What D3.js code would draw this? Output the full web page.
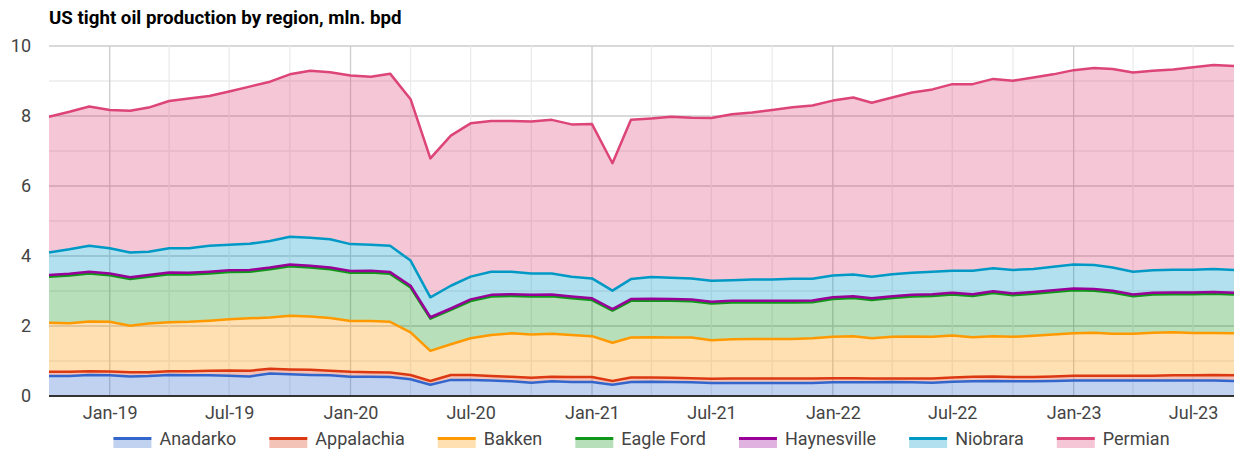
<!DOCTYPE html>
<html>
<head>
<meta charset="utf-8">
<script src="https://cdn.jsdelivr.net/npm/d3@7"></script>
<style>
body { margin: 0; background: #fff; font-family: Roboto, sans-serif; }
</style>
</head>
<body>
<script>
//chart data, monthly Oct 2018 - Sep 2023
var months = [
  "2018-10","2018-11","2018-12",
  "2019-01","2019-02","2019-03","2019-04","2019-05","2019-06","2019-07","2019-08","2019-09","2019-10","2019-11","2019-12",
  "2020-01","2020-02","2020-03","2020-04","2020-05","2020-06","2020-07","2020-08","2020-09","2020-10","2020-11","2020-12",
  "2021-01","2021-02","2021-03","2021-04","2021-05","2021-06","2021-07","2021-08","2021-09","2021-10","2021-11","2021-12",
  "2022-01","2022-02","2022-03","2022-04","2022-05","2022-06","2022-07","2022-08","2022-09","2022-10","2022-11","2022-12",
  "2023-01","2023-02","2023-03","2023-04","2023-05","2023-06","2023-07","2023-08","2023-09"
];
var regions = ["Anadarko", "Appalachia", "Bakken", "Eagle Ford", "Haynesville", "Niobrara", "Permian"];
var colors = ["#3366cc", "#dc3912", "#ff9900", "#109618", "#990099", "#0099c6", "#dd4477"];

var anadarko = [0.57,0.57,0.60,0.59,0.56,0.57,0.60,0.59,0.59,0.58,
  0.56,0.64,0.62,0.60,0.59,0.55,0.55,0.54,0.48,0.32,
  0.46,0.46,0.44,0.42,0.38,0.42,0.40,0.40,0.32,0.40,
  0.41,0.40,0.39,0.37,0.37,0.37,0.37,0.37,0.37,0.39,
  0.39,0.39,0.40,0.39,0.38,0.41,0.42,0.43,0.42,0.42,
  0.43,0.44,0.44,0.44,0.44,0.44,0.44,0.44,0.44,0.43];
var appalachia = [0.12,0.12,0.11,0.11,0.12,0.11,0.11,0.12,0.13,0.15,
  0.16,0.14,0.14,0.15,0.13,0.14,0.13,0.13,0.12,0.11,
  0.14,0.14,0.13,0.13,0.14,0.13,0.14,0.14,0.11,0.13,
  0.12,0.12,0.12,0.12,0.13,0.13,0.13,0.13,0.13,0.12,
  0.12,0.11,0.10,0.11,0.12,0.12,0.13,0.13,0.12,0.12,
  0.13,0.14,0.14,0.14,0.14,0.14,0.15,0.15,0.16,0.16];
var bakken = [1.40,1.39,1.42,1.42,1.33,1.39,1.40,1.41,1.43,1.46,
  1.50,1.46,1.53,1.52,1.51,1.45,1.46,1.45,1.22,0.86,
  0.88,1.05,1.17,1.24,1.24,1.23,1.20,1.17,1.09,1.14,
  1.15,1.15,1.16,1.10,1.12,1.13,1.13,1.13,1.15,1.18,
  1.20,1.15,1.19,1.20,1.19,1.20,1.13,1.15,1.15,1.18,
  1.20,1.21,1.23,1.20,1.20,1.23,1.23,1.21,1.20,1.20];
var eagleFord = [1.32,1.36,1.37,1.33,1.33,1.34,1.37,1.35,1.35,1.35,
  1.33,1.38,1.42,1.40,1.39,1.38,1.39,1.37,1.28,0.92,
  0.98,1.06,1.10,1.07,1.08,1.07,1.05,1.03,0.92,1.05,
  1.05,1.05,1.04,1.05,1.05,1.04,1.04,1.04,1.03,1.08,
  1.09,1.09,1.11,1.14,1.17,1.17,1.18,1.23,1.19,1.20,
  1.21,1.23,1.20,1.18,1.07,1.09,1.09,1.11,1.12,1.11];
var haynesville = [0.05,0.05,0.05,0.05,0.05,0.05,0.05,0.05,0.05,0.05,
  0.05,0.05,0.05,0.05,0.05,0.05,0.05,0.05,0.05,0.04,
  0.04,0.05,0.05,0.05,0.05,0.05,0.05,0.05,0.04,0.05,
  0.05,0.05,0.05,0.05,0.05,0.05,0.05,0.05,0.05,0.05,
  0.05,0.05,0.05,0.05,0.05,0.05,0.05,0.05,0.05,0.05,
  0.05,0.05,0.05,0.05,0.05,0.05,0.05,0.05,0.05,0.05];
var niobrara = [0.64,0.70,0.74,0.72,0.71,0.66,0.69,0.70,0.74,0.73,
  0.75,0.76,0.79,0.80,0.81,0.77,0.74,0.75,0.72,0.57,
  0.65,0.65,0.66,0.64,0.61,0.60,0.57,0.57,0.53,0.57,
  0.62,0.61,0.60,0.60,0.59,0.61,0.61,0.63,0.62,0.62,
  0.62,0.62,0.63,0.63,0.64,0.63,0.67,0.66,0.67,0.66,
  0.67,0.69,0.68,0.66,0.65,0.64,0.65,0.65,0.66,0.65];
var permian = [3.88,3.93,3.98,3.95,4.05,4.12,4.21,4.28,4.28,4.38,
  4.49,4.55,4.64,4.77,4.77,4.82,4.80,4.92,4.61,3.97,
  4.29,4.38,4.31,4.31,4.34,4.39,4.35,4.41,3.64,4.55,
  4.53,4.60,4.59,4.65,4.74,4.77,4.84,4.90,4.95,5.00,
  5.06,4.97,5.05,5.15,5.21,5.33,5.33,5.41,5.41,5.47,
  5.50,5.55,5.63,5.67,5.69,5.70,5.72,5.78,5.83,5.83];

var yTicks = [0, 2, 4, 6, 8, 10];

setChart();

function setChart(){
    //frame dimensions
    var width = 1241,
        height = 450,
        left = 49,
        right = 1234,
        top = 46,
        bottom = 396;

    var svg = d3.select("body")
      .append("svg")
      .attr("width", width)
      .attr("height", height);

    //build table rows for the stack
    var series = [anadarko, appalachia, bakken, eagleFord, haynesville, niobrara, permian];
    var parseMonth = d3.timeParse("%Y-%m");
    var rows = months.map(function(m, i){
      var row = {date: parseMonth(m)};
      regions.forEach(function(r, k){ row[r] = series[k][i]; });
      return row;
    });

    var stacked = d3.stack().keys(regions)(rows);

    var x = d3.scaleTime()
      .domain(d3.extent(rows, function(d){ return d.date; }))
      .range([left, right]);

    var y = d3.scaleLinear()
      .domain([0, 10])
      .range([bottom, top]);

    //title
    svg.append("text")
      .attr("x", 49)
      .attr("y", 24)
      .style("font-size", "18.7px")
      .style("font-weight", "bold")
      .style("fill", "#000")
      .text("US tight oil production by region, mln. bpd");

    //horizontal gridlines, minor then major
    var grid = svg.append("g");
    grid.selectAll(".hgrid")
      .data(d3.range(1, 11))
      .enter()
      .append("line")
      .attr("x1", left)
      .attr("x2", right)
      .attr("y1", function(d){ return y(d); })
      .attr("y2", function(d){ return y(d); })
      .attr("stroke", function(d){ return d % 2 == 0 ? "#cccccc" : "#ebebeb"; })
      .attr("stroke-width", 1.3);

    //vertical gridlines, each quarter, January darker
    var quarters = x.ticks(d3.timeMonth.every(3)).filter(function(d){
      return x(d) > left + 1;
    });
    grid.selectAll(".vgrid")
      .data(quarters)
      .enter()
      .append("line")
      .attr("x1", function(d){ return x(d); })
      .attr("x2", function(d){ return x(d); })
      .attr("y1", top)
      .attr("y2", bottom)
      .attr("stroke", function(d){ return d.getMonth() == 0 ? "#cccccc" : "#ebebeb"; })
      .attr("stroke-width", 1.3);

    //areas
    var area = d3.area()
      .x(function(d){ return x(d.data.date); })
      .y0(function(d){ return y(d[0]); })
      .y1(function(d){ return y(d[1]); });

    svg.selectAll(".area")
      .data(stacked)
      .enter()
      .append("path")
      .attr("class", "area")
      .attr("d", area)
      .attr("fill", function(d, i){ return colors[i]; })
      .attr("fill-opacity", 0.3);

    //baseline
    svg.append("line")
      .attr("x1", left)
      .attr("x2", right)
      .attr("y1", y(0))
      .attr("y2", y(0))
      .attr("stroke", "#333")
      .attr("stroke-width", 2);

    //lines on top of each band
    var line = d3.line()
      .x(function(d){ return x(d.data.date); })
      .y(function(d){ return y(d[1]); });

    svg.selectAll(".line")
      .data(stacked)
      .enter()
      .append("path")
      .attr("class", "line")
      .attr("d", line)
      .attr("fill", "none")
      .attr("stroke", function(d, i){ return colors[i]; })
      .attr("stroke-width", 2.5)
      .attr("stroke-linejoin", "round");

    //axes
    var xAxis = svg.append("g")
      .attr("transform", "translate(0," + bottom + ")")
      .call(d3.axisBottom(x)
        .ticks(d3.timeMonth.every(6))
        .tickFormat(d3.timeFormat("%b-%y"))
        .tickSize(0)
        .tickPadding(10));

    var yAxis = svg.append("g")
      .attr("transform", "translate(" + left + ",0)")
      .call(d3.axisLeft(y)
        .tickValues(yTicks)
        .tickSize(0)
        .tickPadding(18));

    [xAxis, yAxis].forEach(function(g){
      g.select(".domain").remove();
      g.selectAll("text")
        .style("font-family", "Roboto, sans-serif")
        .style("font-size", "18px")
        .style("fill", "#444");
    });

    setLegend(svg, (left + right) / 2);
};


function setLegend(svg, center){
  var legend = svg.append("g");
  var pos = 0;

  regions.forEach(function(r, i){
    var item = legend.append("g").attr("transform", "translate(" + pos + ",0)");
    item.append("rect")
      .attr("x", 0).attr("y", 440)
      .attr("width", 38).attr("height", 8)
      .attr("fill", colors[i]).attr("fill-opacity", 0.3);
    item.append("rect")
      .attr("x", 0).attr("y", 437)
      .attr("width", 38).attr("height", 3)
      .attr("fill", colors[i]);
    var label = item.append("text")
      .attr("x", 46)
      .attr("y", 445)
      .style("font-size", "18px")
      .style("fill", "#444")
      .text(r);
    pos += 46 + label.node().getComputedTextLength() + 33;
  });

  var total = pos - 33;
  legend.attr("transform", "translate(" + (center - total / 2) + ",0)");
};
</script>
</body>
</html>
